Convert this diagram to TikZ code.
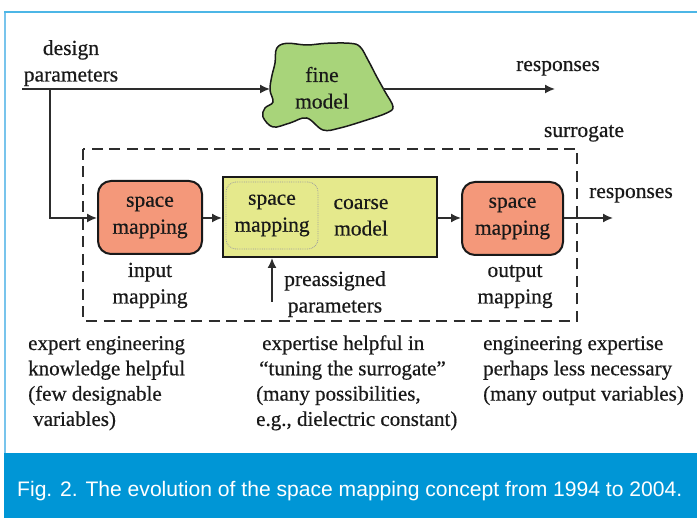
\documentclass[tikz,border=0pt]{standalone}
\usepackage{graphicx}
\usepackage{fontspec}
\setmainfont{Liberation Serif}[Ligatures=TeX]
\newfontfamily\bodyfont{Liberation Serif}[FakeBold=0.5]
\newfontfamily\capfont{Liberation Sans}
\usetikzlibrary{arrows.meta}

\definecolor{frameblue}{RGB}{76,182,230}
\definecolor{edgeblue}{RGB}{120,196,236}
\definecolor{capblue}{RGB}{0,150,214}
\definecolor{finegreen}{RGB}{168,212,122}
\definecolor{salmon}{RGB}{244,152,122}
\definecolor{coarseyellow}{RGB}{229,233,140}
\definecolor{ink}{RGB}{25,25,25}
\definecolor{wire}{RGB}{45,45,45}

% text blocks whose anchor sits on the first baseline
\newcommand{\cblock}[1]{\parbox[t]{220pt}{\centering #1}}
\newcommand{\lblock}[1]{\parbox[t]{230pt}{\raggedright #1}}

\tikzset{
  lbl/.style={inner sep=0pt, text=ink, font=\bodyfont\fontsize{21.5}{26.5}\selectfont},
  note/.style={inner sep=0pt, text=ink, font=\bodyfont\fontsize{21}{25.3}\selectfont, anchor=base west},
  smbox/.style={draw=ink, line width=2pt, fill=salmon, rounded corners=13pt,
    inner sep=0pt, text=ink, align=center, font=\bodyfont\fontsize{21.5}{27}\selectfont},
  coarsebox/.style={draw=ink, line width=2pt, fill=coarseyellow, inner sep=0pt},
  innerbox/.style={draw=gray!75, densely dotted, line width=0.8pt, rounded corners=10pt,
    inner sep=0pt, text=ink, align=center, font=\bodyfont\fontsize{21.5}{27}\selectfont},
  flow/.style={draw=wire, line width=1.6pt, -{Latex[length=10pt,width=9pt]}},
  surr/.style={draw=wire, line width=2pt, dash pattern=on 11pt off 6.5pt},
}

\begin{document}
\begin{tikzpicture}[x=1pt,y=-1pt]
\path[use as bounding box] (0,0) rectangle (697,518);

% page frame and caption band
\fill[capblue] (4,453) rectangle (697,518);
\draw[edgeblue, line width=1.6pt] (5,12) -- (5,453);
\draw[frameblue, line width=2.4pt] (4.2,12) -- (697,12);
\node[anchor=base west, inner sep=0pt, text=white,
      font=\capfont\fontsize{21}{24}\selectfont] (caption) at (17,497)
  {\resizebox{665pt}{\height}{Fig. 2. The evolution of the space mapping concept from 1994 to 2004.}};

% fine model
\draw[ink, line width=1.5pt, fill=finegreen] plot[smooth cycle, tension=0.6] coordinates {
  (276.7,48.3) (286.7,43.3) (306.7,45) (326.7,43.3) (350,43.3) (360,46.7)
  (368,60) (376.7,76.7) (385,91.7) (393,106.7) (386.7,113) (366.7,120)
  (340,128) (323,130) (306.7,118) (290,123) (273,127) (263,117) (265,108)
  (273,102) (270,90) (271.7,76.7) (275,63)};
\node[lbl] (fine) at (322,82) [anchor=base] {\cblock{fine\\model}};
\coordinate (fineL) at (270,89);
\coordinate (fineR) at (383,89);

% design parameters input
\node[lbl, anchor=base] (dp) at (71,55) {\cblock{design\\parameters}};
\coordinate (dpStart) at (22,89);
\coordinate (branch) at (50,89);
\coordinate (respTopEnd) at (555,89);
\node[lbl, anchor=base] (respTop) at (558,71) {responses};

% surrogate frame
\draw[surr] (83,149) rectangle (577,321);
\node[lbl, anchor=base] (surrlbl) at (584,137) {surrogate};

% blocks
\node[smbox, minimum width=104pt, minimum height=73pt] (inmap) at (150,217.5) {space\\mapping};
\node[coarsebox, minimum width=214pt, minimum height=80pt] (coarse) at (330,217) {};
\node[innerbox, minimum width=92pt, minimum height=67pt] (inner) at (272,215.5) {space\\mapping};
\node[lbl, anchor=base] (coarsetxt) at (361,209) {\cblock{coarse\\model}};
\node[smbox, minimum width=101pt, minimum height=73pt] (outmap) at (512.5,218.5) {space\\mapping};

\node[lbl, anchor=base] (inlbl) at (150,277) {\cblock{input\\mapping}};
\node[lbl, anchor=base] (outlbl) at (515,277) {\cblock{output\\mapping}};
\node[lbl, anchor=base] (pre) at (335,286) {\cblock{preassigned\\parameters}};
\coordinate (preStart) at (272,302);
\node[lbl, anchor=base] (respRight) at (631,198) {responses};
\coordinate (respRightEnd) at (613,218);

% connectors
\draw[flow] (dpStart) -- (fineL);
\draw[flow] (fineR) -- (respTopEnd);
\draw[flow] (branch) |- (inmap.west |- 0,218);
\draw[flow] (inmap.east |- 0,218) -- (coarse.west |- 0,218);
\draw[flow] (coarse.east |- 0,218) -- (outmap.west |- 0,218);
\draw[flow] (outmap.east |- 0,218) -- (respRightEnd);
\draw[flow] (preStart) -- (preStart |- coarse.south);

% remarks
\node[note] (n1) at (28,350) {\lblock{expert engineering\\knowledge helpful\\(few designable\\\hspace*{5pt}variables)}};
\node[note] (n2) at (256,350) {\lblock{\hspace*{6pt}expertise helpful in\\\hspace*{3pt}“tuning the surrogate”\\(many possibilities,\\e.g., dielectric constant)}};
\node[note] (n3) at (483,350) {\lblock{engineering expertise\\perhaps less necessary\\(many output variables)}};
\end{tikzpicture}
\end{document}
